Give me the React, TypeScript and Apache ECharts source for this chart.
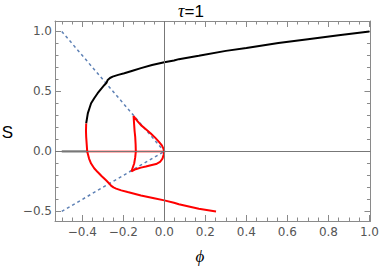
import React, { useEffect, useRef } from "react";
import * as echarts from "echarts";

// ---- data ----
const blackPhi = [-0.381, -0.377, -0.373, -0.365, -0.357, -0.341, -0.325, -0.308, -0.292, -0.282, -0.276, -0.265, -0.252, -0.225, -0.195, -0.155, -0.114, -0.06, 0, 0.047, 0.071, 0.168, 0.3, 0.4, 0.556, 0.7, 0.85, 1.0];
const blackS = [0.233, 0.275, 0.317, 0.36, 0.401, 0.445, 0.485, 0.522, 0.554, 0.572, 0.596, 0.612, 0.623, 0.638, 0.652, 0.673, 0.694, 0.72, 0.744, 0.758, 0.769, 0.797, 0.838, 0.862, 0.903, 0.935, 0.968, 1.0];

const redPhi = [-0.381, -0.382, -0.381, -0.376, -0.367, -0.357, -0.342, -0.325, -0.305, -0.284, -0.27, -0.26, -0.248, -0.235, -0.21, -0.179, -0.114, -0.05, 0, 0.047, 0.071, 0.168, 0.252];
const redS = [0.233, 0.17, 0.121, 0, -0.06, -0.101, -0.14, -0.172, -0.207, -0.241, -0.265, -0.285, -0.3, -0.31, -0.325, -0.339, -0.367, -0.39, -0.408, -0.428, -0.44, -0.478, -0.5];

const swPhi = [-0.15, -0.132, -0.114, -0.09, -0.066, -0.045, -0.026, -0.012, -0.005, 0, -0.003, -0.009, -0.021, -0.04, -0.066, -0.09, -0.114, -0.14, -0.16, -0.153, -0.147, -0.142, -0.139, -0.14, -0.142, -0.145, -0.147, -0.15];
const swS = [0.295, 0.255, 0.219, 0.185, 0.15, 0.115, 0.08, 0.05, 0.025, 0, -0.025, -0.06, -0.088, -0.105, -0.115, -0.126, -0.135, -0.148, -0.166, -0.13, -0.101, -0.05, 0, 0.06, 0.121, 0.17, 0.219, 0.295];

const redFlatPhi = [-0.376, 0];
const redFlatS = [0, 0];
const blackFlatPhi = [-0.5, -0.376];
const blackFlatS = [0, 0];

const dashUpperPhi = [-0.5, 0];
const dashUpperS = [1, 0];
const dashLowerPhi = [-0.5, 0];
const dashLowerS = [-0.5, 0];

const xMajor = [-0.4, -0.2, 0, 0.2, 0.4, 0.6, 0.8, 1.0];
const xMinor = [-0.5, -0.45, -0.35, -0.3, -0.25, -0.15, -0.1, -0.05, 0.05, 0.1, 0.15, 0.25, 0.3, 0.35, 0.45, 0.5, 0.55, 0.65, 0.7, 0.75, 0.85, 0.9, 0.95];
const yMajor = [-0.5, 0, 0.5, 1.0];
const yMinor = [-0.4, -0.3, -0.2, -0.1, 0.1, 0.2, 0.3, 0.4, 0.6, 0.7, 0.8, 0.9];

const X_MIN = -0.533;
const X_MAX = 1.005;
const Y_MIN = -0.58;
const Y_MAX = 1.087;

const zip = (a: number[], b: number[]) => a.map((v, i) => [v, b[i]]);

const FRAME = "#8a8a8a";
const LABEL = "#555";
const fmt = (v: number) => {
  const s = Math.abs(v).toFixed(1);
  return v < -1e-9 ? "\u2212" + s : s;
};

function makeAxis(kind: "x" | "y", position: string, ticks: number[], len: number, labels: boolean, showLine: boolean) {
  return {
    type: "value",
    position,
    min: kind === "x" ? X_MIN : Y_MIN,
    max: kind === "x" ? X_MAX : Y_MAX,
    axisLine: { show: showLine, onZero: false, lineStyle: { color: FRAME, width: 1 } },
    axisTick: { show: true, inside: true, length: len, customValues: ticks, lineStyle: { color: FRAME, width: 1 } },
    axisLabel: {
      show: labels,
      customValues: ticks,
      formatter: fmt,
      color: LABEL,
      fontSize: 12,
      fontFamily: "DejaVu Sans",
      margin: kind === "x" ? 5 : 3,
    },
    splitLine: { show: false },
    minorTick: { show: false },
  };
}

export default function App() {
  const ref = useRef<HTMLDivElement>(null);
  useEffect(() => {
    if (!ref.current) return;
    const chart = echarts.init(ref.current, null, { renderer: "svg" });
    const line = (data: number[][], color: string, width: number, extra: any = {}) => ({
      type: "line",
      data,
      showSymbol: false,
      symbol: "none",
      smooth: false,
      xAxisIndex: 0,
      yAxisIndex: 0,
      lineStyle: { color, width, ...(extra.lineStyle || {}) },
      z: extra.z ?? 3,
      silent: true,
      ...(extra.markLine ? { markLine: extra.markLine } : {}),
    });
    chart.setOption({
      animation: false,
      grid: { left: 55, right: 9, top: 21, bottom: 46, containLabel: false },
      xAxis: [
        makeAxis("x", "bottom", xMajor, 6, true, true),
        makeAxis("x", "bottom", xMinor, 3.5, false, false),
        makeAxis("x", "top", xMajor, 6, false, true),
        makeAxis("x", "top", xMinor, 3.5, false, false),
      ],
      yAxis: [
        makeAxis("y", "left", yMajor, 6, true, true),
        makeAxis("y", "left", yMinor, 3.5, false, false),
        makeAxis("y", "right", yMajor, 6, false, true),
        makeAxis("y", "right", yMinor, 3.5, false, false),
      ],
      graphic: [
        {
          type: "text",
          left: "center",
          top: 2,
          style: {
            text: "{i|\u03c4}=1",
            fontSize: 17,
            fontFamily: "Liberation Sans",
            fill: "#000",
            rich: { i: { fontFamily: "Liberation Serif", fontStyle: "italic", fontSize: 18, fill: "#000" } },
          },
        },
        {
          type: "text",
          x: 7.5,
          y: 132,
          style: { text: "S", fontSize: 17, fontFamily: "Liberation Sans", fill: "#000", align: "center", verticalAlign: "middle" },
        },
        {
          type: "text",
          x: 200,
          y: 256,
          style: { text: "\u03d5", fontSize: 17, fontFamily: "Liberation Serif", fontStyle: "italic", fill: "#000", align: "center", verticalAlign: "middle" },
        },
      ],
      series: [
        line(zip(blackFlatPhi, blackFlatS), "rgba(40,40,40,0.75)", 2, {
          z: 2,
          markLine: {
            silent: true,
            symbol: "none",
            label: { show: false },
            lineStyle: { color: "#777", width: 1, type: "solid" },
            data: [{ xAxis: 0 }, { yAxis: 0 }],
          },
        }),
        line(zip(dashUpperPhi, dashUpperS), "#5E81B5", 1.5, { lineStyle: { type: [3, 3] } }),
        line(zip(dashLowerPhi, dashLowerS), "#5E81B5", 1.5, { lineStyle: { type: [3, 3] } }),
        line(zip(blackPhi, blackS), "#000", 2),
        line(zip(redPhi, redS), "#ff0000", 2),
        line(zip(swPhi, swS), "#ff0000", 2),
        line(zip(redFlatPhi, redFlatS), "rgba(255,0,0,0.6)", 2),
      ],
    });
    return () => chart.dispose();
  }, []);
  return <div ref={ref} style={{ position: "fixed", left: 0, top: 0, width: 382, height: 267, background: "#fff" }} />;
}
